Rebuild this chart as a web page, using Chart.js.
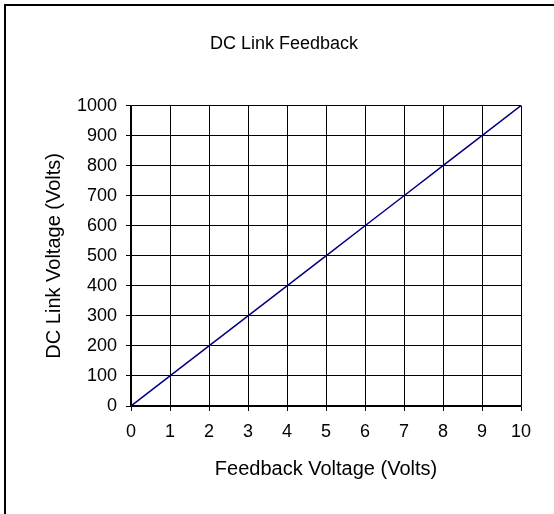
<!DOCTYPE html>
<html lang="en">
<head>
  <meta charset="UTF-8" />
  <title>DC Link Feedback</title>
  <script src="https://cdn.jsdelivr.net/npm/chart.js"></script>
  <style>
    body {
      margin: 0; padding: 0; background: #fff;
    }
    .wrap {
      position: relative;
      width: 554px;
      height: 514px;
      overflow: hidden;
    }
    .frame {
      position: absolute;
      left: 4px; top: 4px;
      width: 560px; height: 520px;
      border-left: 2px solid #000;
      border-top: 2px solid #000;
    }
    canvas {
      position: absolute;
      left: 0; top: 0;
    }
  </style>
</head>
<body>
  <div class="wrap">
    <div class="frame"></div>
    <canvas id="chartDc" width="554" height="514"></canvas>
  </div>

  <script>
    // feedback voltage (V) and matching DC link voltage (V)
    const feedbackVolts = [0, 1, 2, 3, 4, 5, 6, 7, 8, 9, 10];
    const linkVolts = [0, 100, 200, 300, 400, 500, 600, 700, 800, 900, 1000];

    const font = '"Liberation Sans", Arial, sans-serif';
    Chart.defaults.color = '#000';
    Chart.defaults.font.family = font;

    const points = feedbackVolts.map((v, i) => ({ x: v, y: linkVolts[i] }));

    new Chart(document.getElementById('chartDc').getContext('2d'), {
      type: 'scatter',
      data: {
        datasets: [{
          label: 'DC Link Voltage',
          data: points,
          showLine: true,
          borderColor: '#000080',
          borderWidth: 1.5,
          pointRadius: 0,
          fill: false
        }]
      },
      options: {
        responsive: false,
        animation: false,
        // left padding shifts the title centre to match the original
        layout: { padding: { left: 47, right: 33, top: 0, bottom: 0 } },
        plugins: {
          legend: { display: false },
          tooltip: { enabled: false },
          title: {
            display: true,
            text: 'DC Link Feedback',
            color: '#000',
            font: { size: 18, weight: 'normal' },
            padding: { top: 33, bottom: 51 }
          }
        },
        scales: {
          x: {
            type: 'linear',
            min: 0, max: 10,
            ticks: { stepSize: 1, padding: 10, font: { size: 18 } },
            grid: { color: '#000', lineWidth: 1, tickLength: 5 },
            border: { color: '#000', width: 1.5 },
            title: {
              display: true,
              text: 'Feedback Voltage (Volts)',
              font: { size: 20 },
              padding: { top: 0, bottom: 33 }
            },
            afterFit: s => { s.height = 108; }
          },
          y: {
            type: 'linear',
            min: 0, max: 1000,
            ticks: {
              stepSize: 100, padding: 9, font: { size: 18 },
              callback: v => String(v)
            },
            grid: { color: '#000', lineWidth: 1, tickLength: 5 },
            border: { color: '#000', width: 1.5 },
            title: {
              display: true,
              text: 'DC Link Voltage (Volts)',
              font: { size: 20, lineHeight: 0.75 },
              padding: 0
            },
            afterFit: s => { s.width = 84; }
          }
        }
      }
    });
  </script>
</body>
</html>
